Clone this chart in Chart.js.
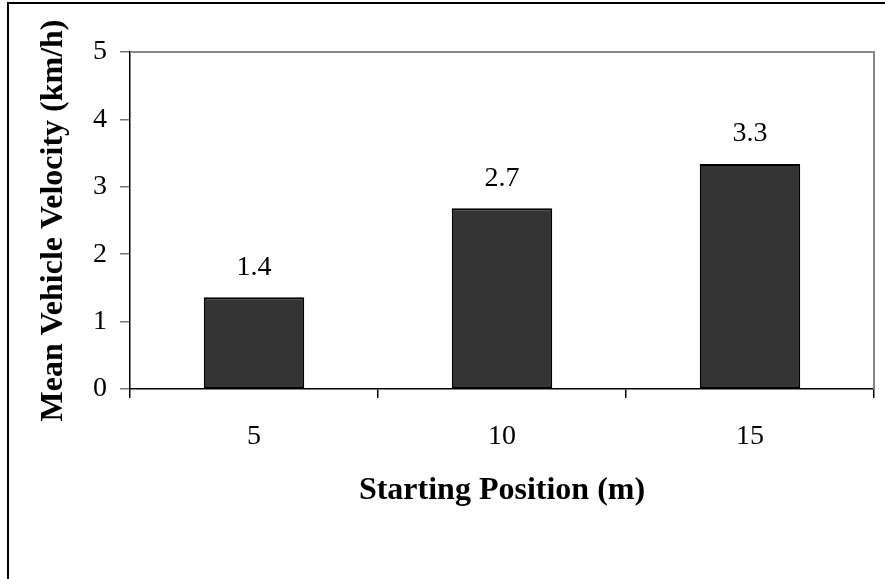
<!DOCTYPE html>
<html>
<head>
<meta charset="utf-8">
<title>Mean Vehicle Velocity by Starting Position</title>
<script src="https://cdn.jsdelivr.net/npm/chart.js@4/dist/chart.umd.min.js"></script>
<style>
  html, body { margin: 0; padding: 0; background: #ffffff; }
  canvas { display: block; }
</style>
</head>
<body>
<canvas id="chart" width="885" height="579"></canvas>
<script>
// Starting positions (m) and mean vehicle velocity (km/h)
const startingPositions = ['5', '10', '15'];
const meanVelocity = [1.36, 2.68, 3.34];
const yTickValues = [0, 1, 2, 3, 4, 5];

const SERIF = '"Liberation Serif", "Times New Roman", serif';

// Frame lines: outer figure border plus the grey top/right edges of the plot box
const framePlugin = {
  id: 'frame',
  afterDraw(chart) {
    const ctx = chart.ctx;
    const a = chart.chartArea;
    ctx.save();
    ctx.fillStyle = '#000000';
    ctx.fillRect(7, 2, 2, chart.height - 2);
    ctx.fillRect(7, 2, chart.width - 7, 2);
    ctx.strokeStyle = '#888888';
    ctx.lineWidth = 2;
    ctx.beginPath();
    ctx.moveTo(a.left, a.top);
    ctx.lineTo(a.right, a.top);
    ctx.lineTo(a.right, a.bottom);
    ctx.stroke();
    ctx.restore();
  }
};

// Value labels above each bar
const valueLabelPlugin = {
  id: 'valueLabels',
  afterDatasetsDraw(chart) {
    const ctx = chart.ctx;
    const meta = chart.getDatasetMeta(0);
    ctx.save();
    ctx.font = '28px ' + SERIF;
    ctx.fillStyle = '#000000';
    ctx.textAlign = 'center';
    ctx.textBaseline = 'middle';
    meta.data.forEach((bar, i) => {
      const v = chart.data.datasets[0].data[i];
      ctx.fillText(v.toFixed(1), bar.x, bar.y - 30);
    });
    ctx.restore();
  }
};

new Chart(document.getElementById('chart'), {
  type: 'bar',
  data: {
    labels: startingPositions,
    datasets: [{
      data: meanVelocity,
      backgroundColor: '#333333',
      borderColor: '#000000',
      borderWidth: 2,
      borderSkipped: false,
      categoryPercentage: 1.0,
      barPercentage: 0.405
    }]
  },
  options: {
    responsive: false,
    devicePixelRatio: 1,
    animation: false,
    layout: { padding: { top: 52, right: 11, left: 0, bottom: 0 } },
    plugins: {
      legend: { display: false },
      tooltip: { enabled: false }
    },
    scales: {
      x: {
        afterFit(scale) { scale.height = 190; },
        grid: {
          offset: true,
          drawOnChartArea: false,
          drawTicks: true,
          tickLength: 9,
          color: '#000000',
          lineWidth: 1.5
        },
        border: { display: true, color: '#000000', width: 1.5 },
        ticks: {
          color: '#000000',
          padding: 22,
          font: { family: SERIF, size: 28 }
        },
        title: {
          display: true,
          text: 'Starting Position (m)',
          color: '#000000',
          font: { family: SERIF, size: 32, weight: 'bold' },
          padding: { top: 0, bottom: 69 }
        }
      },
      y: {
        min: 0,
        max: 5,
        afterFit(scale) { scale.width = 130; },
        afterBuildTicks(scale) {
          scale.ticks = yTickValues.map(v => ({ value: v }));
        },
        grid: {
          drawOnChartArea: false,
          drawTicks: true,
          tickLength: 10,
          color: '#777777',
          lineWidth: 1.5
        },
        border: { display: true, color: '#000000', width: 1.5 },
        ticks: {
          color: '#000000',
          padding: 13,
          font: { family: SERIF, size: 28 }
        },
        title: {
          display: true,
          text: 'Mean Vehicle Velocity (km/h)',
          color: '#000000',
          font: { family: SERIF, size: 32, weight: 'bold' },
          padding: { top: 35, bottom: 0 }
        }
      }
    }
  },
  plugins: [framePlugin, valueLabelPlugin]
});
</script>
</body>
</html>
